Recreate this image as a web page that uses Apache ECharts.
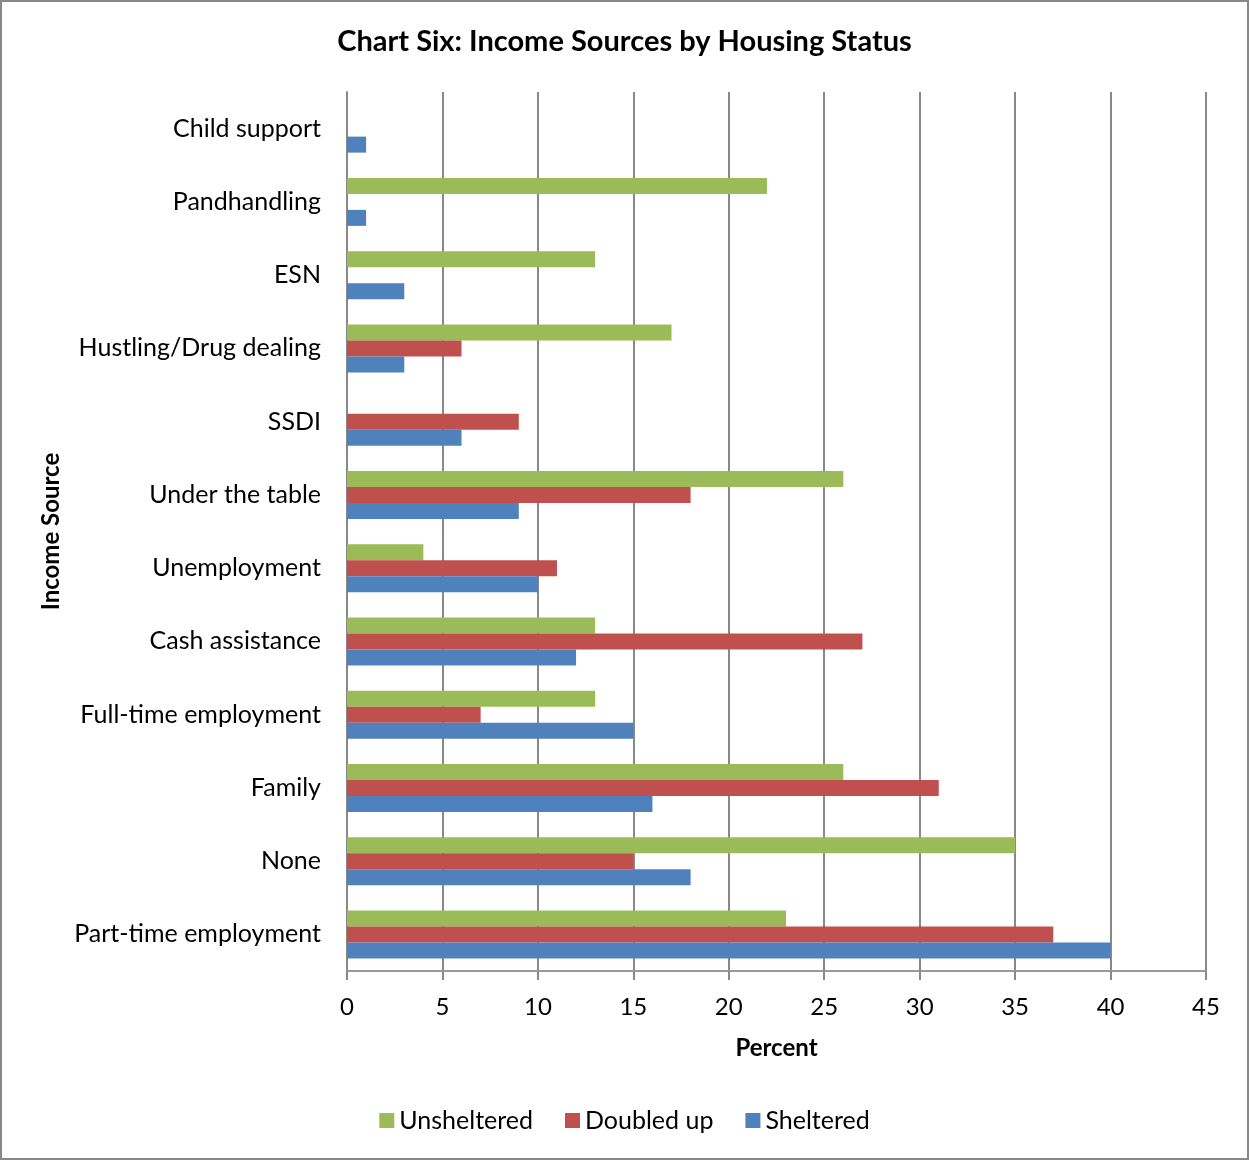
<!DOCTYPE html>
<html>
<head>
<meta charset="utf-8">
<script src="https://cdn.jsdelivr.net/npm/echarts@6/dist/echarts.min.js"></script>
<style>
    html, body { margin: 0; padding: 0; background: #fff; }
    #chart_six { width: 1249px; height: 1160px; }
</style>
</head>
<body>
<div id="chart_six"></div>
<script>
// categories listed bottom -> top
var categories = ['Part-time employment', 'None', 'Family', 'Full-time employment', 'Cash assistance',
    'Unemployment', 'Under the table', 'SSDI', 'Hustling/Drug dealing', 'ESN', 'Pandhandling', 'Child support'];
var sheltered = [40, 18, 16, 15, 12, 10, 9, 6, 3, 3, 1, 1];
var doubled_up = [37, 15, 31, 7, 27, 11, 18, 9, 6, 0, 0, 0];
var unsheltered = [23, 35, 26, 13, 13, 4, 26, 0, 17, 13, 22, 0];
var x_ticks = [0, 45, 5];

var chart_six = echarts.init(document.getElementById('chart_six'));
var font = 'Lato';

var option = {
    animation: false,
    textStyle: {fontFamily: font},
    title: {
        text: 'Chart Six: Income Sources by Housing Status',
        left: 'center',
        top: 22,
        textStyle: {fontFamily: font, fontSize: 29, fontWeight: 'bold', color: '#000'}
    },
    graphic: [{
        type: 'rect',
        shape: {x: 1, y: 1, width: 1247, height: 1158},
        style: {fill: 'none', stroke: '#888', lineWidth: 2},
        silent: true
    }],
    legend: {
        data: ['Unsheltered', 'Doubled up', 'Sheltered'],
        bottom: 22,
        left: 'center',
        icon: 'rect',
        itemWidth: 15,
        itemHeight: 15,
        itemGap: 32,
        textStyle: {fontFamily: font, fontSize: 25, color: '#000'}
    },
    grid: {left: 347, right: 43, top: 92, bottom: 189},
    xAxis: {
        type: 'value',
        min: x_ticks[0],
        max: x_ticks[1],
        interval: x_ticks[2],
        name: 'Percent',
        nameLocation: 'middle',
        nameGap: 65,
        nameTextStyle: {fontFamily: font, fontSize: 24, fontWeight: 'bold', color: '#000'},
        axisLine: {show: true, lineStyle: {color: '#999', width: 2}},
        axisTick: {show: true, length: 9, lineStyle: {color: '#888', width: 2}},
        axisLabel: {margin: 24, fontSize: 24, color: '#000', fontFamily: font},
        splitLine: {show: true, lineStyle: {color: '#888', width: 2}}
    },
    yAxis: {
        type: 'category',
        data: categories,
        name: 'Income Source',
        nameLocation: 'middle',
        nameGap: 283,
        nameRotate: 90,
        nameTextStyle: {fontFamily: font, fontSize: 24, fontWeight: 'bold', color: '#000'},
        axisLine: {show: true, lineStyle: {color: '#888', width: 2}},
        axisTick: {show: false},
        axisLabel: {margin: 26, fontSize: 25, color: '#000', fontFamily: font}
    },
    series: [
        {
            name: 'Unsheltered',
            type: 'bar',
            data: unsheltered,
            barWidth: 16,
            barGap: 0,
            itemStyle: {color: '#9BBB59'}
        },
        {
            name: 'Doubled up',
            type: 'bar',
            data: doubled_up,
            barWidth: 16,
            barGap: 0,
            itemStyle: {color: '#C0504D'}
        },
        {
            name: 'Sheltered',
            type: 'bar',
            data: sheltered,
            barWidth: 16,
            barGap: 0,
            itemStyle: {color: '#4F81BD'}
        }
    ]
};

chart_six.setOption(option);
</script>
</body>
</html>
